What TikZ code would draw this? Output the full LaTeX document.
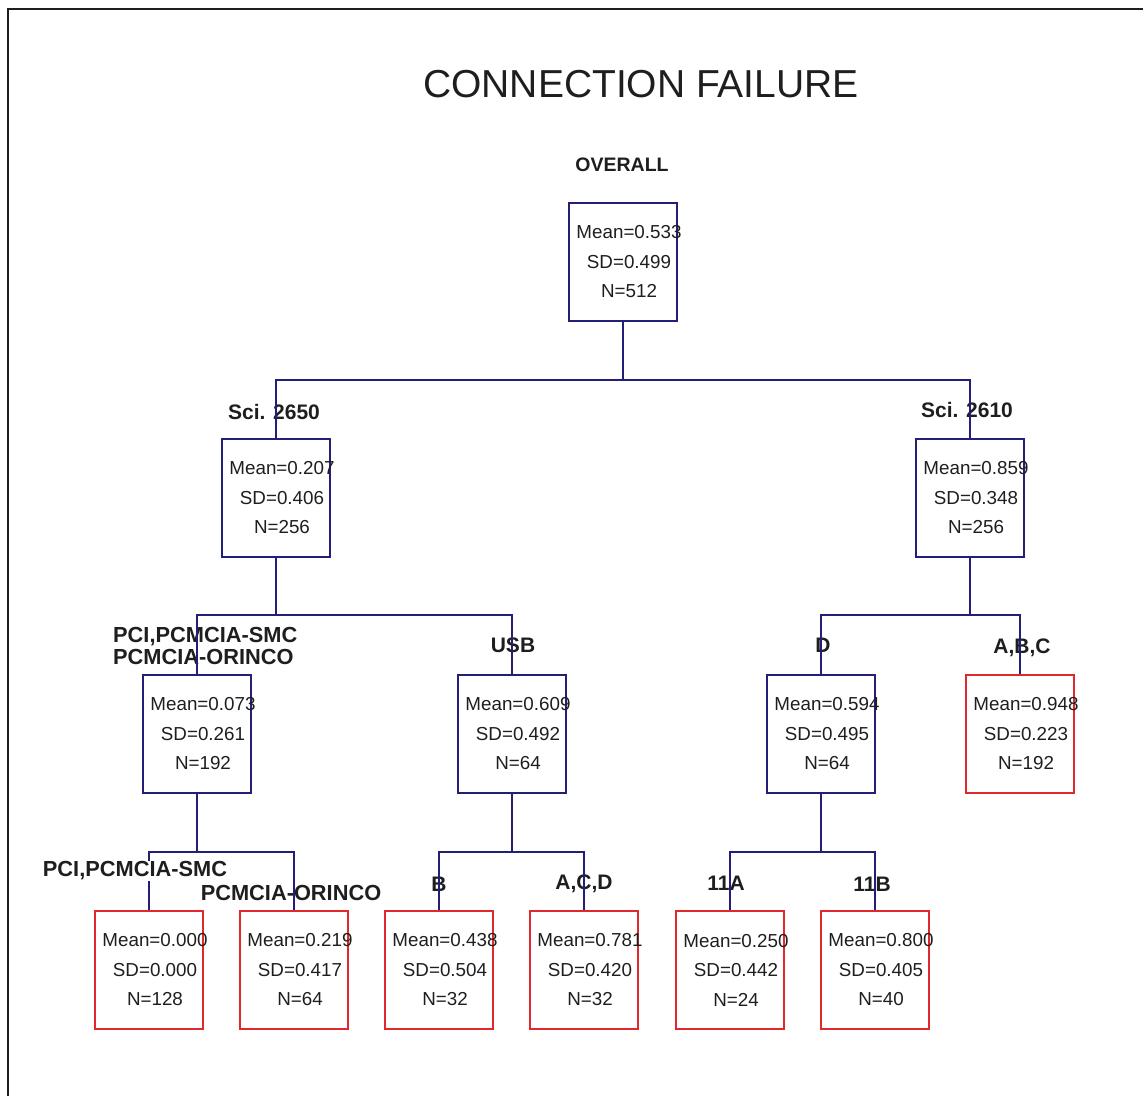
\documentclass[tikz,border=0pt]{standalone}
\usepackage{fontspec}
\setmainfont{Liberation Sans}
\definecolor{navy}{RGB}{35,30,120}
\definecolor{boxred}{RGB}{225,40,45}
\definecolor{ink}{RGB}{30,30,30}
\begin{document}
\begin{tikzpicture}[x=1pt,y=-1pt,
  nbox/.style={draw=navy,line width=1.8pt,minimum width=108pt,minimum height=118pt,inner sep=0pt},
  rbox/.style={nbox,draw=boxred},
  stat/.style={align=center,text=ink,font=\fontsize{18.8}{29.5}\selectfont,inner sep=0pt},
  conn/.style={draw=navy,line width=2pt},
  lab/.style={text=ink,font=\fontsize{21}{22}\selectfont\bfseries,inner sep=0pt,align=left},
  wlab/.style={lab,font=\fontsize{21.8}{22}\selectfont\bfseries}]
\useasboundingbox (0,0) rectangle (1143,1095);
\begin{scope}
\clip (0,0) rectangle (1143,1095);
\draw[ink,line width=2.2pt] (8,1110) -- (8,9) -- (1160,9);
\end{scope}
\node[text=ink,font=\fontsize{39}{40}\selectfont,inner sep=0pt] (title) at (641,84) {CONNECTION FAILURE};
% boxes
\node[nbox] (o) at (623,262) {};
\node[nbox] (s1) at (276,498) {};
\node[nbox] (s2) at (970,498) {};
\node[nbox] (p) at (197,734) {};
\node[nbox] (u) at (512,734) {};
\node[nbox] (d) at (821,734) {};
\node[rbox] (abc) at (1020,734) {};
\node[rbox] (l1) at (149,970) {};
\node[rbox] (l2) at (294,970) {};
\node[rbox] (l3) at (439,970) {};
\node[rbox] (l4) at (584,970) {};
\node[rbox] (l5) at (730,970) {};
\node[rbox] (l6) at (875,970) {};
% stats
\node[stat] at ([xshift=6pt]o.center) {Mean=0.533\\SD=0.499\\N=512};
\node[stat] at ([xshift=6pt]s1.center) {Mean=0.207\\SD=0.406\\N=256};
\node[stat] at ([xshift=6pt]s2.center) {Mean=0.859\\SD=0.348\\N=256};
\node[stat] at ([xshift=6pt]p.center) {Mean=0.073\\SD=0.261\\N=192};
\node[stat] at ([xshift=6pt]u.center) {Mean=0.609\\SD=0.492\\N=64};
\node[stat] at ([xshift=6pt]d.center) {Mean=0.594\\SD=0.495\\N=64};
\node[stat] at ([xshift=6pt]abc.center) {Mean=0.948\\SD=0.223\\N=192};
\node[stat] at ([xshift=6pt]l1.center) {Mean=0.000\\SD=0.000\\N=128};
\node[stat] at ([xshift=6pt]l2.center) {Mean=0.219\\SD=0.417\\N=64};
\node[stat] at ([xshift=6pt]l3.center) {Mean=0.438\\SD=0.504\\N=32};
\node[stat] at ([xshift=6pt]l4.center) {Mean=0.781\\SD=0.420\\N=32};
\node[stat] at ([xshift=6pt]l5.center) {Mean=0.250\\SD=0.442\\N=24};
\node[stat] at ([xshift=6pt]l6.center) {Mean=0.800\\SD=0.405\\N=40};
% labels
\node[lab,font=\fontsize{19.5}{20}\selectfont\bfseries] (tOverall) at (622,165) {OVERALL};
\node[lab] (tS1) at (274,412) {Sci. 2650};
\node[lab] (tS2) at (967,410) {Sci. 2610};
\node[wlab,anchor=west] (tP) at (113,646) {PCI,PCMCIA-SMC\\PCMCIA-ORINCO};
\node[lab] (tU) at (513,645) {USB};
\node[lab] (tD) at (823,645) {D};
\node[lab] (tABC) at (1022,648) {A,B,C};
\node[wlab] (tO) at (291,893) {PCMCIA-ORINCO};
\node[lab] (tB) at (439,884) {B};
\node[lab] (tACD) at (584,884) {A,C,D};
\node[lab] (t11A) at (726,883) {11A};
\node[lab] (t11B) at (872,884) {11B};
% junctions
\coordinate (j1) at (623,380);
\coordinate (j2) at (276,615);
\coordinate (j3) at (970,615);
\coordinate (j4) at (197,852);
\coordinate (j5) at (512,852);
\coordinate (j6) at (821,852);
% connectors
\draw[conn] (o.south) -- (j1);
\draw[conn] (s1.north) |- (j1) -| (s2.north);
\draw[conn] (s1.south) -- (j2);
\draw[conn] (p.north) |- (j2) -| (u.north);
\draw[conn] (s2.south) -- (j3);
\draw[conn] (d.north) |- (j3) -| (abc.north);
\draw[conn] (p.south) -- (j4);
\draw[conn] (l1.north) |- (j4) -| (l2.north);
\draw[conn] (u.south) -- (j5);
\draw[conn] (l3.north) |- (j5) -| (l4.north);
\draw[conn] (d.south) -- (j6);
\draw[conn] (l5.north) |- (j6) -| (l6.north);
% label with white ground over the line
\node[wlab,fill=white,inner sep=1pt] (tP2) at (135,871) {PCI,PCMCIA-SMC};
\end{tikzpicture}
\end{document}
